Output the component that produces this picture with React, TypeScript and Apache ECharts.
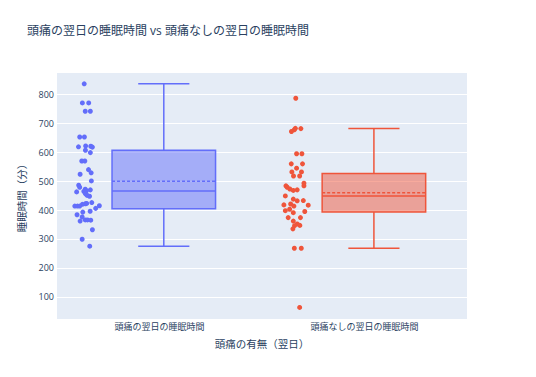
import React, { useEffect, useRef } from "react";
import * as echarts from "echarts";

const categories = ["頭痛の翌日の睡眠時間", "頭痛なしの翌日の睡眠時間"];

// sleep minutes, day after headache
const headacheSleep = [
  837, 771, 771, 742, 742, 653, 653, 622, 621, 619, 618, 607, 599, 570, 570, 540, 529, 524, 501, 486,
  479, 472, 470, 467, 465, 463, 458, 455, 451, 448, 426, 423, 422, 420, 415, 414, 414, 414, 406, 396,
  393, 384, 376, 366, 366, 365, 362, 332, 299, 275,
];
const headacheJitter = [
  -0.006, -0.015, 0.016, -0.001, 0.024, -0.028, -0.005, 0.001, 0.026, -0.034, 0.034, 0, 0.024, -0.018,
  -0.003, 0.015, 0.028, -0.026, 0.029, -0.033, -0.028, -0.001, 0.024, 0.005, -0.008, -0.043, -0.001,
  0.003, 0.008, 0.02, 0.031, 0.006, 0, -0.015, 0.068, -0.052, -0.039, -0.028, 0.05, 0.023, -0.013,
  -0.041, -0.016, -0.001, 0.01, 0.026, -0.026, 0.034, -0.016, 0.021,
];

// sleep minutes, day after no headache
const noHeadacheSleep = [
  787, 683, 682, 678, 672, 595, 595, 560, 560, 545, 532, 532, 518, 518, 493, 484, 484, 479, 473, 470,
  468, 449, 438, 433, 432, 421, 418, 417, 414, 403, 398, 395, 391, 374, 374, 362, 352, 347, 346, 335,
  268, 268, 63,
];
const noHeadacheJitter = [
  0.001, -0.001, 0.026, -0.006, -0.02, 0.005, 0.031, -0.021, 0.034, 0.005, -0.018, 0.029, -0.01, 0.02,
  0.041, 0.041, -0.047, -0.041, -0.028, 0.008, -0.011, -0.05, -0.011, 0.038, 0.008, -0.024, -0.057,
  0.062, -0.008, -0.029, -0.05, 0.045, -0.011, -0.036, 0.024, -0.011, 0.008, 0.021, -0.005, -0.013,
  -0.006, 0.028, 0.02,
];

// box stats: [lower whisker, Q1, median, Q3, upper whisker]
const headacheBox = [275, 405, 466, 607, 837];
const noHeadacheBox = [268, 393, 449, 527, 682];
const means = [500, 460];

const yTicks = [100, 200, 300, 400, 500, 600, 700, 800];

const colors = ["#636efa", "#EF553B"];
const fills = ["rgba(99,110,250,0.5)", "rgba(239,85,59,0.5)"];
const boxShift = [0.018, 0.045];
const pointShift = -0.383;
const boxHalf = 0.253;
const capHalf = 0.125;
const FONT = '"Open Sans", "Noto Sans CJK JP", sans-serif';

export default function App() {
  const ref = useRef<HTMLDivElement>(null);
  useEffect(() => {
    if (!ref.current) return;
    const chart = echarts.init(ref.current, null, { renderer: "svg" });
    const boxes = [headacheBox, noHeadacheBox];
    const boxData = boxes.map((b, i) => [i + boxShift[i], ...b, means[i], i]);
    const scatterSets = [
      { vals: headacheSleep, jit: headacheJitter },
      { vals: noHeadacheSleep, jit: noHeadacheJitter },
    ];
    const scatterSeries = scatterSets.map((s, i) => ({
      type: "scatter",
      xAxisIndex: 1,
      yAxisIndex: 0,
      symbolSize: 5,
      itemStyle: { color: colors[i], opacity: 1 },
      data: s.vals.map((v, k) => [i + boxShift[i] + pointShift + s.jit[k], v]),
      silent: true,
      z: 3,
    }));
    chart.setOption({
      animation: false,
      backgroundColor: "#fff",
      textStyle: { fontFamily: FONT },
      title: {
        text: "頭痛の翌日の睡眠時間 vs 頭痛なしの翌日の睡眠時間",
        left: 22,
        top: 19,
        textStyle: { fontFamily: FONT, fontSize: 12, fontWeight: "normal", color: "#2a3f5f" },
      },
      grid: {
        left: 57,
        top: 72,
        right: 69,
        bottom: 58,
        show: true,
        backgroundColor: "#E5ECF6",
        borderWidth: 0,
      },
      xAxis: [
        {
          type: "category",
          data: categories,
          boundaryGap: true,
          axisLine: { show: false },
          axisTick: { show: false },
          splitLine: { show: false },
          axisLabel: { color: "#2a3f5f", fontSize: 9, margin: 3, fontFamily: FONT },
          name: "頭痛の有無（翌日）",
          nameLocation: "middle",
          nameGap: 20,
          nameTextStyle: { color: "#2a3f5f", fontSize: 10.5, fontFamily: FONT },
        },
        { type: "value", min: -0.504, max: 1.5, show: false },
      ],
      yAxis: {
        type: "value",
        min: 23,
        max: 878,
        splitNumber: 8,
        axisLine: { show: false },
        axisTick: { show: false },
        splitLine: { show: true, lineStyle: { color: "#ffffff", width: 1 } },
        axisLabel: {
          color: "#2a3f5f",
          fontSize: 9,
          margin: 3,
          fontFamily: FONT,
          showMinLabel: false,
          showMaxLabel: false,
          formatter: (v: number) => (yTicks.includes(v) ? String(v) : ""),
        },
        name: "睡眠時間（分）",
        nameLocation: "middle",
        nameRotate: 90,
        nameGap: 30,
        nameTextStyle: { color: "#2a3f5f", fontSize: 10.5, fontFamily: FONT },
      },
      series: [
        {
          type: "custom",
          xAxisIndex: 1,
          yAxisIndex: 0,
          silent: true,
          z: 2,
          data: boxData,
          renderItem: (params: any, api: any) => {
            const x = api.value(0);
            const lo = api.value(1);
            const q1 = api.value(2);
            const med = api.value(3);
            const q3 = api.value(4);
            const hi = api.value(5);
            const mean = api.value(6);
            const idx = api.value(7);
            const c = colors[idx];
            const pTL = api.coord([x - boxHalf, q3]);
            const pBR = api.coord([x + boxHalf, q1]);
            const pc = (xx: number, yy: number) => api.coord([xx, yy]);
            const line = (a: number[], b: number[], dash?: number[]) => ({
              type: "line",
              shape: { x1: a[0], y1: a[1], x2: b[0], y2: b[1] },
              style: { stroke: c, lineWidth: 1.5, lineDash: dash, fill: null },
            });
            return {
              type: "group",
              children: [
                {
                  type: "rect",
                  shape: { x: pTL[0], y: pTL[1], width: pBR[0] - pTL[0], height: pBR[1] - pTL[1] },
                  style: { fill: fills[idx], stroke: c, lineWidth: 1.5 },
                },
                line(pc(x, q3), pc(x, hi)),
                line(pc(x, q1), pc(x, lo)),
                line(pc(x - capHalf, hi), pc(x + capHalf, hi)),
                line(pc(x - capHalf, lo), pc(x + capHalf, lo)),
                line(pc(x - boxHalf, med), pc(x + boxHalf, med)),
                line(pc(x - boxHalf, mean), pc(x + boxHalf, mean), [3, 2]),
              ],
            };
          },
        },
        ...scatterSeries,
      ],
    });
    return () => chart.dispose();
  }, []);
  return <div ref={ref} style={{ width: 536, height: 377, position: "absolute", left: 0, top: 0 }} />;
}
